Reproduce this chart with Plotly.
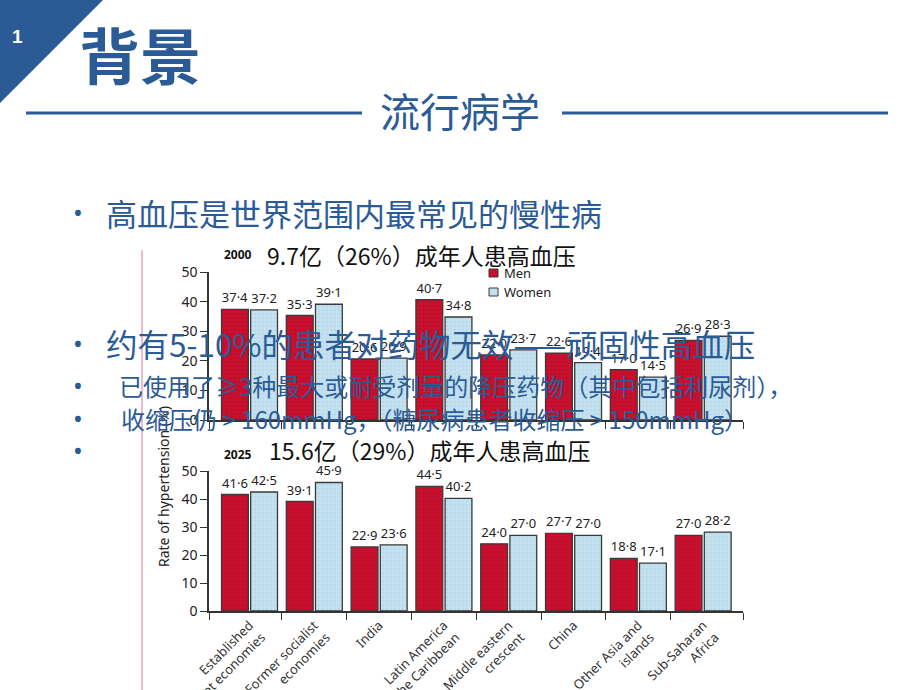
import plotly.graph_objects as go

regions = ["Established<br>market economies", "Former socialist<br>economies", "India",
           "Latin America<br>and the Caribbean", "Middle eastern<br>crescent", "China",
           "Other Asia and<br>islands", "Sub-Saharan<br>Africa"]
men_2000 = [37.4, 35.3, 20.6, 40.7, 22.0, 22.6, 17.0, 26.9]
women_2000 = [37.2, 39.1, 20.9, 34.8, 23.7, 19.4, 14.5, 28.3]
men_2025 = [41.6, 39.1, 22.9, 44.5, 24.0, 27.7, 18.8, 27.0]
women_2025 = [42.5, 45.9, 23.6, 40.2, 27.0, 27.0, 17.1, 28.2]
series_names = ["Men", "Women"]
y_ticks = [0, 10, 20, 30, 40, 50]

W, H = 920, 690
RED = "#c8102e"
BLUE = "#c3e1ef"
EDGE = "#3a3a3a"
SLIDE = "#2b5b96"
CJK = "Noto Sans CJK SC"
LAT = "Noto Sans"

def px(x):
    return x / W

def py(y):
    return 1 - y / H

def fmt(v):
    return f"{v:.1f}".replace(".", "·")

xs = list(range(len(regions)))
fig = go.Figure()

def add_pair(men, women, xa, ya):
    for vals, name, col, pcol in [(men, series_names[0], RED, "#8c0a22"),
                                  (women, series_names[1], BLUE, "#8fbcd2")]:
        fig.add_trace(go.Bar(
            x=xs, y=vals, name=name, xaxis=xa, yaxis=ya, showlegend=False,
            marker=dict(color=col, line=dict(color=EDGE, width=1.3),
                        pattern=dict(shape=".", fgcolor=pcol, size=4, solidity=0.12)),
            text=[fmt(v) for v in vals], textposition="outside", cliponaxis=False,
            constraintext="none",
            textfont=dict(family=LAT, size=13, color="#222"),
            hoverinfo="skip",
        ))

add_pair(men_2000, women_2000, "x", "y")
add_pair(men_2025, women_2025, "x2", "y2")

xrange = [-0.625, 7.615]
xdom = [px(209), px(743)]
bounds = [xrange[0]] + [i + 0.5 for i in range(len(regions) - 1)] + [xrange[1]]

common_x = dict(range=xrange, domain=xdom, showgrid=False, zeroline=False,
                showline=True, linecolor="#333", linewidth=1.5,
                tickvals=xs, ticks="", automargin=False,
                minor=dict(tickmode="array", tickvals=bounds, ticks="outside",
                           ticklen=7, tickcolor="#333", tickwidth=1.3))
common_y = dict(range=[0, 50], tickvals=y_ticks, showgrid=False, zeroline=False,
                showline=True, linecolor="#333", linewidth=1.5, ticks="outside",
                ticklen=7, tickcolor="#333", tickwidth=1.3, automargin=False,
                tickfont=dict(family=LAT, size=14, color="#222"))

fig.update_layout(
    width=W, height=H, autosize=False,
    margin=dict(l=0, r=0, t=0, b=0, pad=0, autoexpand=False),
    paper_bgcolor="white", plot_bgcolor="rgba(0,0,0,0)",
    barmode="group", bargap=0.1, bargroupgap=0.08,
    xaxis=dict(anchor="y", showticklabels=False, **common_x),
    xaxis2=dict(anchor="y2", ticktext=regions, tickangle=-45, showticklabels=True,
                tickfont=dict(family=LAT, size=13, color="#333"), **common_x),
    yaxis=dict(domain=[py(420), py(272)], anchor="x", **common_y),
    yaxis2=dict(domain=[py(611), py(471)], anchor="x2", **common_y),
    showlegend=False,
)

shapes = [
    dict(type="path", xref="paper", yref="paper",
         path=f"M 0,1 L {px(103)},1 L 0,{py(103)} Z", fillcolor=SLIDE, line=dict(width=0)),
    dict(type="line", xref="paper", yref="paper", x0=px(26), x1=px(362), y0=py(113), y1=py(113),
         line=dict(color=SLIDE, width=3)),
    dict(type="line", xref="paper", yref="paper", x0=px(562), x1=px(888), y0=py(113), y1=py(113),
         line=dict(color=SLIDE, width=3)),
    dict(type="line", xref="paper", yref="paper", x0=px(142), x1=px(142), y0=py(250), y1=0,
         line=dict(color="#d9769e", width=1)),
    # legend swatches
    dict(type="rect", xref="paper", yref="paper", x0=px(489), x1=px(498), y0=py(277), y1=py(269),
         fillcolor=RED, line=dict(color=EDGE, width=1)),
    dict(type="rect", xref="paper", yref="paper", x0=px(489), x1=px(498), y0=py(296), y1=py(288),
         fillcolor=BLUE, line=dict(color=EDGE, width=1)),
]
fig.update_layout(shapes=shapes)

ann = []
def text(x, y, s, size, color, family=CJK, xanchor="left", angle=0):
    ann.append(dict(x=px(x), y=py(y), xref="paper", yref="paper", text=s, showarrow=False,
                    xanchor=xanchor, yanchor="middle", textangle=angle,
                    font=dict(family=family, size=size, color=color)))

text(17, 37, "<b>1</b>", 19, "white", family="Liberation Sans", xanchor="center")
text(140, 54, "<b>背景</b>", 61, SLIDE, xanchor="center")
text(460, 110, "流行病学", 40, SLIDE, xanchor="center")

text(502, 273, series_names[0], 13, "#222", family=LAT)
text(502, 292, series_names[1], 13, "#222", family=LAT)

text(238, 255, "<b>2000</b>", 12, "#111", family=LAT, xanchor="center")
text(265, 255, "9.7亿（26%）成年人患高血压", 23, "#111")
text(238, 454, "<b>2025</b>", 12, "#111", family=LAT, xanchor="center")
text(267, 450, "15.6亿（29%）成年人患高血压", 23, "#111")
text(163, 487, "Rate of hypertension (%)", 14, "#222", family=LAT, xanchor="center", angle=-90)

for yy in [212, 343, 385, 418, 450]:
    text(78, yy, "•", 26, SLIDE, family=LAT, xanchor="center")
text(104, 212, "高血压是世界范围内最常见的慢性病", 31, SLIDE)
text(104, 343, "约有5-10%的患者对药物无效——顽固性高血压", 31.5, SLIDE)
text(117, 385, "已使用了≥3种最大或耐受剂量的降压药物（其中包括利尿剂），", 24, SLIDE)
text(119, 418, "收缩压仍 > 160mmHg，（糖尿病患者收缩压 > 150mmHg）", 24, SLIDE)

fig.update_layout(annotations=ann)
fig.write_html("out.html", config={"displayModeBar": False},
               post_script="document.body.style.margin='0';document.body.style.overflow='hidden';")
